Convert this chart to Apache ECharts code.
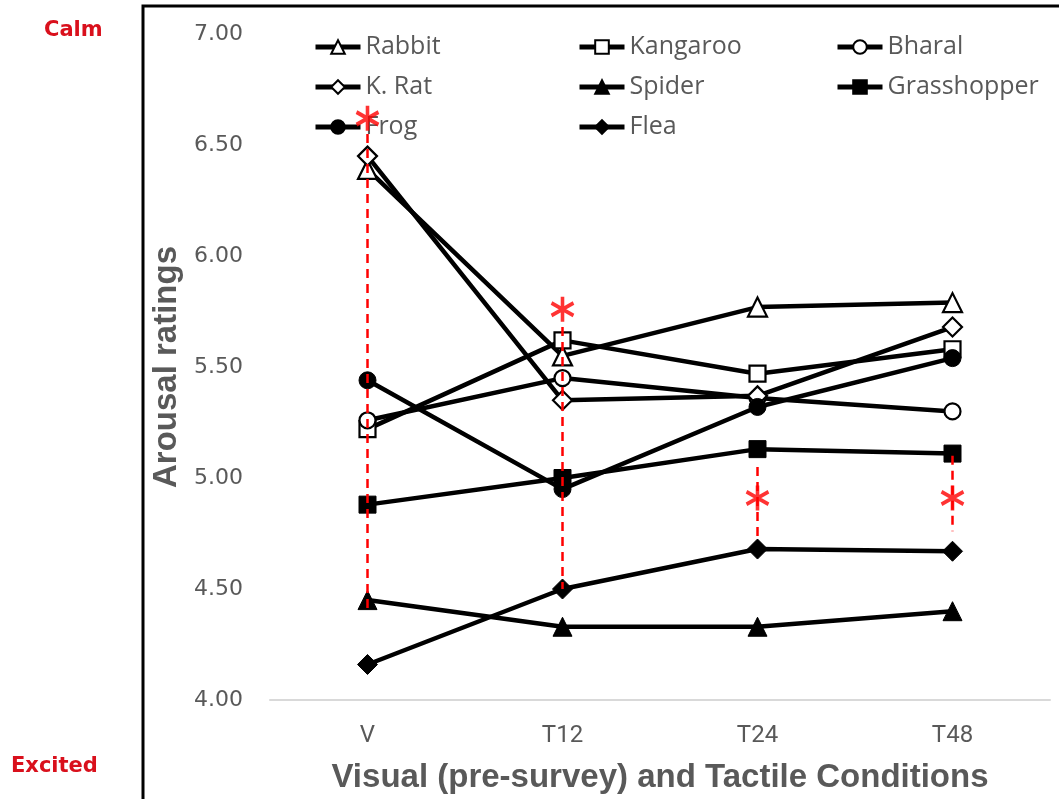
<!DOCTYPE html>
<html>
<head>
<meta charset="utf-8">
<script src="https://cdn.jsdelivr.net/npm/echarts@6/dist/echarts.min.js"></script>
<style>html,body{margin:0;padding:0;background:#fff;}#c{width:1059px;height:799px;}</style>
</head>
<body>
<div id="c"></div>
<script>
const categories = ['V', 'T12', 'T24', 'T48'];
const rabbit      = [6.39, 5.55, 5.77, 5.79];
const kangaroo    = [5.22, 5.62, 5.47, 5.58];
const bharal      = [5.26, 5.45, 5.36, 5.30];
const kRat        = [6.45, 5.35, 5.37, 5.68];
const spider      = [4.45, 4.33, 4.33, 4.40];
const grasshopper = [4.88, 5.00, 5.13, 5.11];
const frog        = [5.44, 4.95, 5.32, 5.54];
const flea        = [4.16, 4.50, 4.68, 4.67];
const yTicks = { min: 4, max: 7, interval: 0.5 };
// significance markers
const sigCats   = [0, 1, 2, 3];
const sigTop    = [6.55, 5.68, 5.05, 5.10];
const sigBottom = [4.40, 4.50, 4.72, 4.76];
const starVals  = [6.62, 5.76, 4.91, 4.91];

const gray = '#595959';
function mk(name, data, symbol, filled, size) {
  return {
    name: name, type: 'line', data: data, symbol: symbol, symbolSize: size,
    lineStyle: { color: '#000', width: 4.5 },
    itemStyle: { color: filled ? '#000' : '#fff', borderColor: '#000', borderWidth: filled ? 1 : 2.2 },
    emphasis: { disabled: true }, animation: false, z: 3
  };
}
const series = [
  mk('Rabbit', rabbit, 'triangle', false, 19),
  mk('Kangaroo', kangaroo, 'rect', false, 16),
  mk('Bharal', bharal, 'circle', false, 16),
  mk('K. Rat', kRat, 'diamond', false, 19),
  mk('Spider', spider, 'triangle', true, 19),
  mk('Grasshopper', grasshopper, 'rect', true, 17),
  mk('Frog', frog, 'circle', true, 17),
  mk('Flea', flea, 'diamond', true, 20),
  {
    name: 'sig', type: 'scatter', z: 10,
    data: sigCats.map((c, i) => [c, starVals[i]]),
    symbol: 'path://M10,0L10,20M1.34,5L18.66,15M1.34,15L18.66,5',
    symbolSize: [22, 25], symbolKeepAspect: false,
    itemStyle: { color: 'none', borderColor: '#ff0000', borderWidth: 3.8 },
    emphasis: { disabled: true }, silent: true, animation: false,
    markLine: {
      silent: true, symbol: 'none', animation: false,
      label: { show: false },
      lineStyle: { color: '#ff0000', type: [9, 6], width: 2.5 },
      emphasis: { disabled: true },
      data: sigCats.map((c, i) => [{ coord: [c, sigTop[i]] }, { coord: [c, sigBottom[i]] }])
    }
  }
];

const legendText = { color: gray, fontSize: 25, fontFamily: 'Open Sans', lineHeight: 26 };
function lg(left, names) {
  return { orient: 'vertical', left: left, top: 34, padding: 0, itemWidth: 45, itemHeight: 17, itemGap: 14,
    textStyle: legendText, data: names, selectedMode: false, lineStyle: { width: 5 } };
}

const chart = echarts.init(document.getElementById('c'), null, { renderer: 'canvas' });
chart.setOption({
  backgroundColor: '#fff',
  animation: false,
  grid: { left: 270, right: 9, top: 34, bottom: 96 },
  legend: [
    lg(313, ['Rabbit', 'K. Rat', 'Frog']),
    lg(577, ['Kangaroo', 'Spider', 'Flea']),
    lg(835, ['Bharal', 'Grasshopper'])
  ],
  xAxis: {
    type: 'category', data: categories, boundaryGap: true,
    axisLine: { lineStyle: { color: '#d9d9d9', width: 2 } },
    axisTick: { show: false },
    axisLabel: { color: gray, fontSize: 24, fontFamily: 'Liberation Sans Narrow, Roboto, sans-serif', margin: 24 },
    name: 'Visual (pre-survey) and Tactile Conditions', nameLocation: 'middle', nameGap: 61,
    nameTextStyle: { color: gray, fontSize: 33, fontWeight: 'bold', fontFamily: 'Liberation Sans' }
  },
  yAxis: {
    type: 'value', min: yTicks.min, max: yTicks.max, interval: yTicks.interval,
    axisLine: { show: false }, axisTick: { show: false }, splitLine: { show: false },
    axisLabel: { color: gray, fontSize: 22, fontFamily: 'DejaVu Sans', margin: 27, formatter: v => v.toFixed(2) },
    name: 'Arousal ratings', nameLocation: 'middle', nameGap: 76,
    nameTextStyle: { color: gray, fontSize: 33, fontWeight: 'bold', fontFamily: 'Liberation Sans' }
  },
  graphic: [
    { type: 'rect', shape: { x: 143, y: 6, width: 1000, height: 900 }, style: { fill: 'none', stroke: '#000', lineWidth: 3 }, silent: true },
    { type: 'text', left: 44, top: 20, style: { text: 'Calm', fill: '#d9101c', font: 'bold 21px "DejaVu Sans"' } },
    { type: 'text', left: 11, top: 756, style: { text: 'Excited', fill: '#d9101c', font: 'bold 21px "DejaVu Sans"' } }
  ],
  series: series
});
</script>
</body>
</html>
